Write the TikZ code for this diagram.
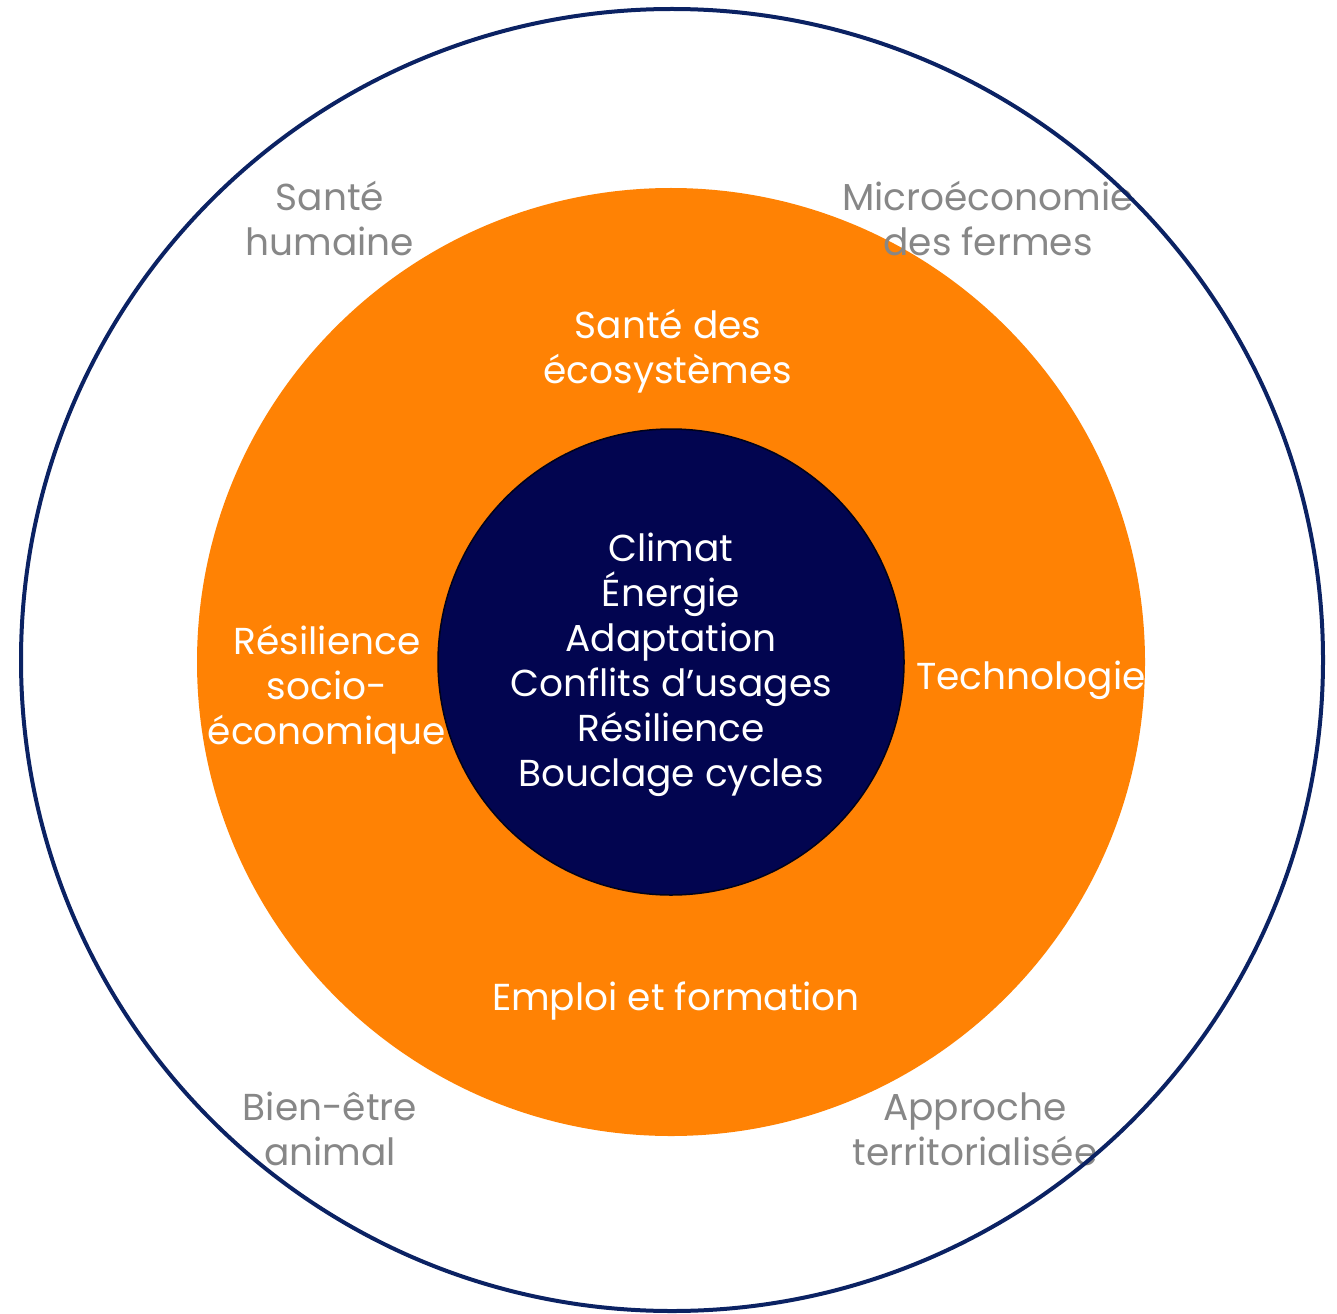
\documentclass[tikz,border=0pt]{standalone}
\usepackage{fontspec}
\setmainfont{Poppins}

\definecolor{coreblue}{HTML}{020550}
\definecolor{ringblue}{HTML}{0B2263}
\definecolor{fieldorange}{HTML}{FF8204}
\definecolor{softgray}{HTML}{878787}

\begin{document}
\begin{tikzpicture}[
    x=1pt, y=-1pt,
    disc/.style={circle, inner sep=0pt, outer sep=0pt},
    intext/.style={white, align=center, font=\fontsize{37.5}{45}\selectfont},
    extext/.style={softgray, align=center, font=\fontsize{37.5}{45}\selectfont}
]
    \useasboundingbox (0,0) rectangle (1337,1313);

    % the three rings
    \node[disc, fill=fieldorange, minimum size=948pt] (mid) at (671,662) {};
    \node[disc, fill=coreblue, draw=black!70!coreblue, line width=1.5pt, minimum size=466pt] (core) at (671,662) {};

    % centre
    \node[intext] (enjeux) at (671,665) {Climat\\Énergie\\Adaptation\\Conflits d’usages\\Résilience\\Bouclage cycles};

    % orange ring
    \node[intext] (eco) at (668,351) {Santé des\\écosystèmes};
    \node[intext] (socio) at (327,690) {Résilience\\socio-\\économique};
    \node[intext] (techno) at (1031,680) {Technologie};
    \node[intext] (emploi) at (676,1001) {Emploi et formation};

    % outside
    \node[extext] (humaine) at (330,219) {Santé\\humaine};
    \node[extext] (fermes) at (988,219) {Microéconomie\\des fermes};
    \node[extext] (animal) at (330,1129) {Bien-être\\animal};
    \node[extext] (territoire) at (975,1129) {Approche\\territorialisée};

    \node[disc, draw=ringblue, line width=4pt, minimum size=1302pt] (outer) at (672,660) {};
\end{tikzpicture}
\end{document}
